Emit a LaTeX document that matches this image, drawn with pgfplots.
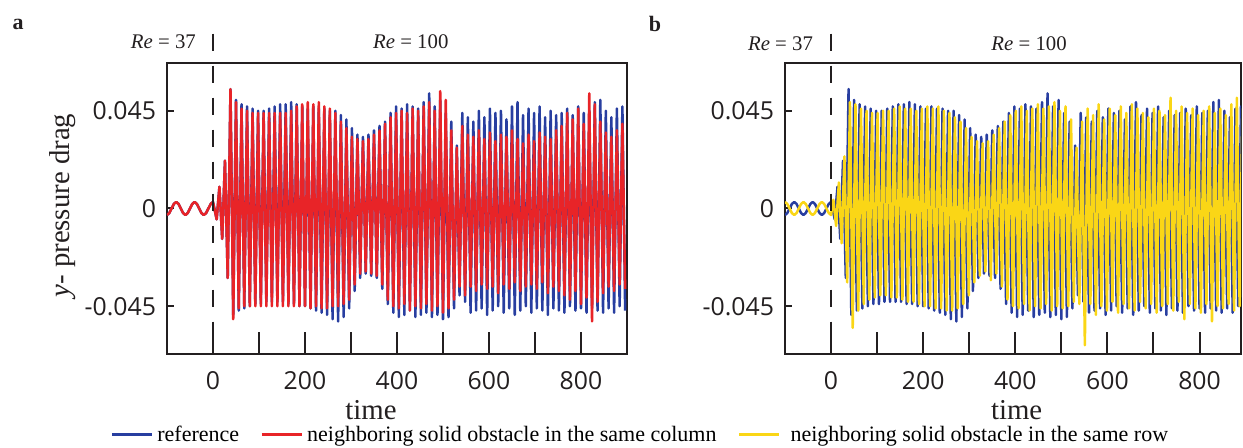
\documentclass[border=0pt]{standalone}
\usepackage{fontspec}
\setmainfont{Liberation Serif}
\newfontfamily\tickfont{Open Sans}
\usepackage{pgfplots}
\usepackage{pgfplotstable}
\pgfplotsset{compat=1.18}
\definecolor{cblue}{RGB}{40,62,160}
\definecolor{cred}{RGB}{232,36,40}
\definecolor{cyel}{RGB}{250,214,22}
\definecolor{axc}{RGB}{35,31,32}

\pgfplotstableread{
t y
-100 -0.003
-95 -0.0021
-90 0
-85 0.0021
-80 0.003
-75 0.0021
-70 0
-65 -0.0021
-60 -0.003
-55 -0.0021
-50 0
-45 0.0021
-40 0.003
-35 0.0021
-30 0
-25 -0.0021
-20 -0.003
-15 -0.0021
-10 0
-5 0.0021
0 0.003
8 -0.005
14 0.010
20 -0.014
26 0.022
32 -0.032
38 0.055
44 -0.049
50 0.050
56 -0.047
62 0.048
68 -0.046
74 0.047
80 -0.045
86 0.046
92 -0.044
98 0.045
104 -0.044
110 0.045
116 -0.043
122 0.046
128 -0.043
134 0.047
140 -0.043
146 0.048
152 -0.043
158 0.048
164 -0.044
170 0.049
176 -0.044
182 0.048
188 -0.045
194 0.047
200 -0.045
206 0.046
212 -0.046
218 0.047
224 -0.047
230 0.046
236 -0.048
242 0.046
248 -0.049
254 0.045
260 -0.051
266 0.045
272 -0.052
278 0.043
284 -0.050
290 0.041
296 -0.046
302 0.037
308 -0.038
314 0.034
320 -0.032
326 0.033
332 -0.030
338 0.034
344 -0.031
350 0.036
356 -0.032
362 0.038
368 -0.037
374 0.040
380 -0.044
386 0.044
392 -0.048
398 0.047
404 -0.050
410 0.046
416 -0.049
422 0.048
428 -0.047
434 0.047
440 -0.050
446 0.046
452 -0.049
458 0.049
464 -0.048
470 0.053
476 -0.050
482 0.047
488 -0.049
494 0.050
500 -0.051
506 0.044
512 -0.050
518 0.040
524 -0.046
530 0.029
536 -0.040
542 0.044
548 -0.043
554 0.042
560 -0.048
566 0.040
572 -0.047
578 0.045
584 -0.046
590 0.042
596 -0.049
602 0.046
608 -0.047
614 0.044
620 -0.045
626 0.045
632 -0.048
638 0.041
644 -0.046
650 0.047
656 -0.049
662 0.049
668 -0.047
674 0.043
680 -0.045
686 0.046
692 -0.048
698 0.044
704 -0.046
710 0.047
716 -0.047
722 0.042
728 -0.049
734 0.045
740 -0.046
746 0.043
752 -0.047
758 0.044
764 -0.048
770 0.046
776 -0.045
782 0.043
788 -0.047
794 0.047
800 -0.046
806 0.044
812 -0.048
818 0.045
824 -0.046
830 0.049
836 -0.047
842 0.050
848 -0.048
854 0.045
860 -0.046
866 0.042
872 -0.048
878 0.046
884 -0.045
890 0.047
896 -0.047
}\tblblue

\pgfplotstableread{
t y
-100 -0.003
-95 -0.0021
-90 0
-85 0.0021
-80 0.003
-75 0.0021
-70 0
-65 -0.0021
-60 -0.003
-55 -0.0021
-50 0
-45 0.0021
-40 0.003
-35 0.0021
-30 0
-25 -0.0021
-20 -0.003
-15 -0.0021
-10 0
-5 0.0021
0 0.003
8 -0.005
14 0.010
20 -0.014
26 0.022
32 -0.032
38 0.055
44 -0.051
50 0.049
56 -0.046
62 0.046
68 -0.045
74 0.045
80 -0.045
86 0.044
92 -0.045
98 0.044
104 -0.045
110 0.044
116 -0.045
122 0.044
128 -0.045
134 0.044
140 -0.045
146 0.044
152 -0.045
158 0.044
164 -0.045
170 0.045
176 -0.045
182 0.047
188 -0.045
194 0.048
200 -0.045
206 0.049
212 -0.046
218 0.048
224 -0.045
230 0.049
236 -0.046
242 0.047
248 -0.046
254 0.046
260 -0.045
266 0.044
272 -0.045
278 0.040
284 -0.044
290 0.037
296 -0.042
302 0.033
308 -0.035
314 0.032
320 -0.030
326 0.031
332 -0.029
338 0.032
344 -0.030
350 0.034
356 -0.031
362 0.036
368 -0.035
374 0.039
380 -0.042
386 0.042
392 -0.045
398 0.044
404 -0.046
410 0.045
416 -0.044
422 0.044
428 -0.047
434 0.046
440 -0.045
446 0.045
452 -0.046
458 0.047
464 -0.044
470 0.049
476 -0.047
482 0.045
488 -0.045
494 0.054
500 -0.048
506 0.050
512 -0.046
518 0.036
524 -0.042
530 0.028
536 -0.036
542 0.038
548 -0.040
554 0.034
560 -0.036
566 0.033
572 -0.038
578 0.036
584 -0.035
590 0.032
596 -0.037
602 0.035
608 -0.036
614 0.031
620 -0.039
626 0.034
632 -0.035
638 0.033
644 -0.037
650 0.036
656 -0.034
662 0.032
668 -0.038
674 0.030
680 -0.036
686 0.034
692 -0.035
698 0.031
704 -0.037
710 0.035
716 -0.034
722 0.033
728 -0.039
734 0.032
740 -0.036
746 0.036
752 -0.038
758 0.038
764 -0.040
770 0.044
776 -0.042
782 0.041
788 -0.038
794 0.046
800 -0.044
806 0.039
812 -0.041
818 0.053
824 -0.052
830 0.048
836 -0.043
842 0.040
848 -0.039
854 0.035
860 -0.036
866 0.033
872 -0.038
878 0.036
884 -0.035
890 0.039
896 -0.037
}\tblred

\pgfplotstableread{
t y
-100 0.003
-95 0.0021
-90 0
-85 -0.0021
-80 -0.003
-75 -0.0021
-70 0
-65 0.0021
-60 0.003
-55 0.0021
-50 0
-45 -0.0021
-40 -0.003
-35 -0.0021
-30 0
-25 0.0021
-20 0.003
-15 0.0021
-10 0
-5 -0.0021
0 -0.003
5 0.004
11 -0.008
17 0.012
23 -0.016
29 0.024
35 -0.034
41 0.049
47 -0.055
53 0.048
59 -0.047
65 0.046
71 -0.044
77 0.045
83 -0.042
89 0.044
95 -0.041
101 0.044
107 -0.040
113 0.045
119 -0.040
125 0.045
131 -0.041
137 0.046
143 -0.041
149 0.047
155 -0.042
161 0.046
167 -0.043
173 0.046
179 -0.043
185 0.045
191 -0.044
197 0.046
203 -0.045
209 0.047
215 -0.045
221 0.046
227 -0.046
233 0.047
239 -0.046
245 0.045
251 -0.047
257 0.044
263 -0.047
269 0.042
275 -0.046
281 0.040
287 -0.044
293 0.037
299 -0.040
305 0.033
311 -0.034
317 0.031
323 -0.031
329 0.030
335 -0.029
341 0.031
347 -0.033
353 0.034
359 -0.030
365 0.037
371 -0.036
377 0.040
383 -0.042
389 0.043
395 -0.045
401 0.045
407 -0.046
413 0.047
419 -0.044
425 0.045
431 -0.047
437 0.046
443 -0.045
449 0.048
455 -0.046
461 0.046
467 -0.044
473 0.047
479 -0.047
485 0.049
491 -0.045
497 0.045
503 -0.046
509 0.047
515 -0.045
521 0.041
527 -0.043
533 0.028
539 -0.044
545 0.040
551 -0.063
557 0.046
563 -0.044
569 0.043
575 -0.049
581 0.048
587 -0.045
593 0.041
599 -0.047
605 0.046
611 -0.043
617 0.043
623 -0.048
629 0.047
635 -0.044
641 0.044
647 -0.046
653 0.048
659 -0.047
665 0.046
671 -0.043
677 0.044
683 -0.046
689 0.042
695 -0.044
701 0.046
707 -0.048
713 0.045
719 -0.045
725 0.043
731 -0.044
737 0.051
743 -0.047
749 0.045
755 -0.043
761 0.047
767 -0.051
773 0.044
779 -0.044
785 0.046
791 -0.046
797 0.043
803 -0.048
809 0.045
815 -0.044
821 0.047
827 -0.052
833 0.044
839 -0.045
845 0.046
851 -0.046
857 0.043
863 -0.044
869 0.048
875 -0.047
881 0.051
887 -0.045
893 0.046
899 -0.046
}\tblyel

\pgfplotsset{
  panel/.style={
    scale only axis, height=145.5pt,
    ymin=-0.067, ymax=0.067, xmin=-100,
    scaled y ticks=false, scaled x ticks=false,
    clip mode=individual,
    axis line style={line width=1.2pt, axc},
    tick align=inside, tick pos=left,
    xtick={0,100,...,800}, xticklabels={0,,200,,400,,600,,800},
    ytick={-0.045,0,0.045}, yticklabels={-0.045,0,0.045},
    xtick style={/pgfplots/major tick length=11pt, line width=1pt, axc},
    ytick style={/pgfplots/major tick length=3.5pt, line width=1pt, axc},
    ticklabel style={font=\tickfont\fontsize{12.4}{14}\selectfont, text=axc},
    xticklabel style={yshift=-5pt},
    yticklabel style={xshift=-2pt},
    label style={font=\fontsize{14.4}{16}\selectfont, text=axc},
  },
  series/.style={line width=1.25pt, line join=round, mark=none, forget plot},
}

\begin{document}
\begin{tikzpicture}[x=1pt,y=1pt]
\begin{axis}[panel, at={(83.5pt,47pt)}, anchor=south west, width=230pt, xmax=900,
  ylabel={\textit{y}- pressure drag},
  ylabel style={at={(axis description cs:-0.226,0.51)}, anchor=center},
  xlabel={time},
  xlabel style={at={(axis description cs:0.4435,-0.192)}, anchor=center},
  legend style={at={(axis description cs:-0.137,-0.278)}, anchor=west, draw=none, fill=none,
    legend columns=3, font=\fontsize{11}{13}\selectfont,
    /tikz/every even column/.append style={column sep=8.5pt}},
  legend image code/.code={\draw[#1, line width=1.5pt] (0pt,0pt) -- (20pt,0pt);},
]
\addplot[cblue, series] table {\tblblue};
\addplot[cred, series] table {\tblred};
\addlegendimage{cblue}\addlegendentry{reference}
\addlegendimage{cred}\addlegendentry{neighboring solid obstacle in the same column}
\addlegendimage{cyel}\addlegendentry{\hspace{3pt}neighboring solid obstacle in the same row}
\draw[axc, line width=1.25pt, dash pattern=on 8.5pt off 7.5pt] (axis cs:0,0.0805) -- (axis cs:0,-0.067);
\node[anchor=east, font=\fontsize{10.4}{12}\selectfont, text=axc] at (axis cs:-22,0.0769) {\textit{Re} = 37};
\node[font=\fontsize{10.4}{12}\selectfont, text=axc] at (axis cs:430,0.0769) {\textit{Re} = 100};
\end{axis}

\begin{axis}[panel, at={(392.5pt,47pt)}, anchor=south west, width=228pt, xmax=890,
  xlabel={time},
  xlabel style={at={(axis description cs:0.508,-0.192)}, anchor=center},
]
\addplot[cblue, series] table {\tblblue};
\addplot[cyel, series] table {\tblyel};
\draw[axc, line width=1.25pt, dash pattern=on 8.5pt off 7.5pt] (axis cs:0,0.0805) -- (axis cs:0,-0.067);
\node[anchor=east, font=\fontsize{10.4}{12}\selectfont, text=axc] at (axis cs:-24,0.0759) {\textit{Re} = 37};
\node[font=\fontsize{10.4}{12}\selectfont, text=axc] at (axis cs:430,0.0759) {\textit{Re} = 100};
\end{axis}

\node[font=\bfseries\fontsize{11}{13}\selectfont, text=axc] at (9pt,212pt) {a};
\node[font=\bfseries\fontsize{11}{13}\selectfont, text=axc] at (327.5pt,212pt) {b};
\pgfresetboundingbox
\useasboundingbox (0,0) rectangle (621.5,224);
\end{tikzpicture}
\end{document}
